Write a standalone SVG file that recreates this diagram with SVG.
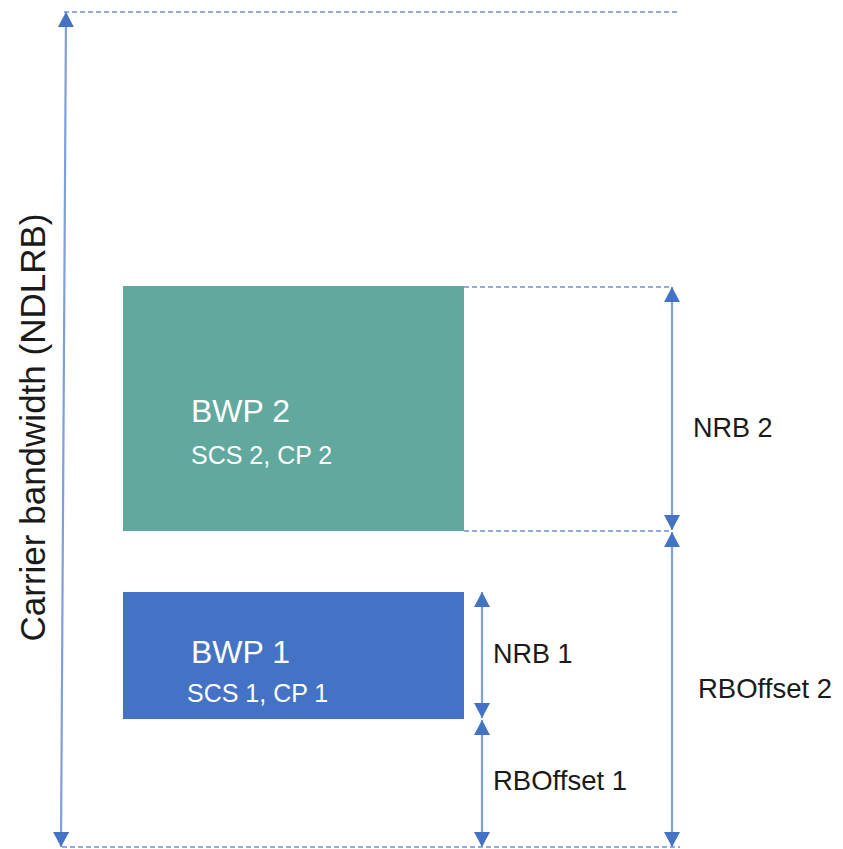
<svg xmlns="http://www.w3.org/2000/svg" width="843" height="849" viewBox="0 0 843 849">
  <style>
    .guide { stroke: #8FAADC; stroke-width: 2; stroke-dasharray: 5 3; fill: none; }
    .dim { stroke: #7F9FDB; stroke-width: 2.2; fill: none; marker-start: url(#head); marker-end: url(#head); }
    .lbl { font-family: "Liberation Sans", Arial, sans-serif; fill: #1a1a1a; }
    .in { font-family: "Liberation Sans", Arial, sans-serif; fill: #ffffff; }
  </style>
  <defs>
    <marker id="head" viewBox="0 0 15 16" refX="15" refY="8" markerWidth="15" markerHeight="16" markerUnits="userSpaceOnUse" orient="auto-start-reverse">
      <path d="M0,0 L15,8 L0,16 Z" fill="#4472C4"/>
    </marker>
  </defs>
  <rect width="843" height="849" fill="#ffffff"/>

  <!-- extension guides -->
  <g id="guides">
    <line class="guide" x1="64" y1="12" x2="680" y2="12"/>
    <line class="guide" x1="464" y1="287" x2="672" y2="287"/>
    <line class="guide" x1="464" y1="531" x2="672" y2="531"/>
    <line class="guide" x1="62" y1="847" x2="680" y2="847"/>
  </g>

  <g id="bwp2">
    <rect x="123" y="286" width="341" height="245" fill="#61A89E"/>
    <text class="in" x="191" y="422" font-size="32">BWP 2</text>
    <text class="in" x="191" y="464" font-size="25">SCS 2, CP 2</text>
  </g>

  <g id="bwp1">
    <rect x="123" y="592" width="341" height="127" fill="#4472C4"/>
    <text class="in" x="191" y="663" font-size="32">BWP 1</text>
    <text class="in" x="187" y="702" font-size="25">SCS 1, CP 1</text>
  </g>

  <!-- dimension arrows -->
  <g id="connectors">
    <line class="dim" x1="61" y1="847" x2="66" y2="12"/>
    <line class="dim" x1="672" y1="287" x2="672" y2="530"/>
    <line class="dim" x1="672" y1="532" x2="672" y2="847"/>
    <line class="dim" x1="482" y1="592" x2="482" y2="718"/>
    <line class="dim" x1="482" y1="720" x2="482" y2="847"/>
  </g>

  <g id="labels">
    <text class="lbl" x="45" y="427.5" font-size="35" text-anchor="middle" transform="rotate(-90 45 427.5)">Carrier bandwidth (NDLRB)</text>
    <text class="lbl" x="693" y="437" font-size="27">NRB 2</text>
    <text class="lbl" x="493" y="663" font-size="27">NRB 1</text>
    <text class="lbl" x="698" y="698" font-size="27.5">RBOffset 2</text>
    <text class="lbl" x="493" y="790" font-size="27.5">RBOffset 1</text>
  </g>
</svg>
